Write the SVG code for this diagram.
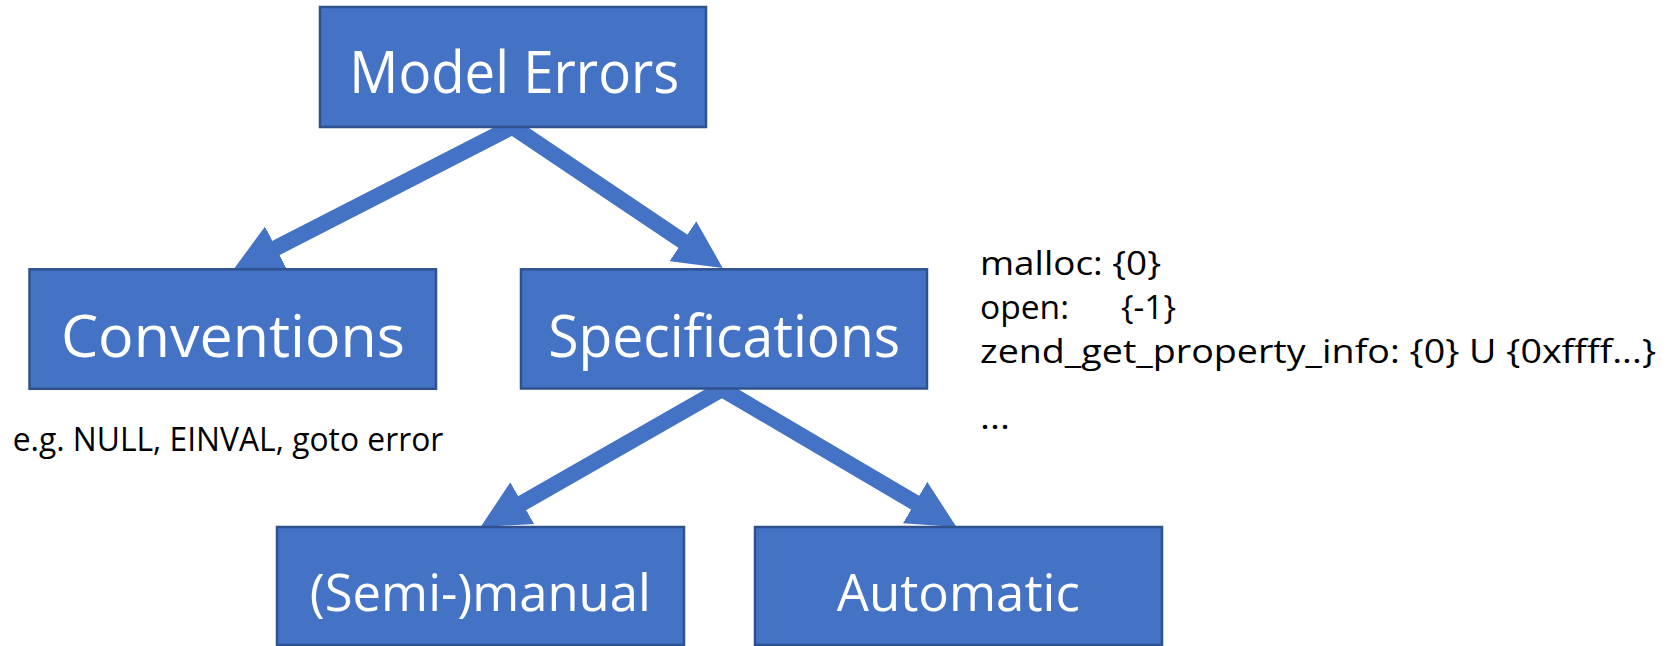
<svg xmlns="http://www.w3.org/2000/svg" width="1680" height="646" viewBox="0 0 1680 646">
  <style>
    .box { fill: #4472C4; stroke: #2F528F; stroke-width: 2.5; }
    .lbl { font-family: "Open Sans", "Noto Sans", "Liberation Sans", sans-serif; fill: #FFFFFF; text-anchor: middle; }
    .big { font-size: 58px; }
    .mid { font-size: 52px; }
    .note { font-family: "Open Sans", "Noto Sans", "Liberation Sans", sans-serif; fill: #000000; }
    .spec { font-size: 32px; }
    .conn { stroke: #4472C4; stroke-width: 16; fill: none; stroke-linecap: butt; marker-end: url(#head); }
  </style>
  <defs>
    <marker id="head" markerUnits="strokeWidth" markerWidth="3" markerHeight="3" refX="1.5" refY="1.5" orient="auto" viewBox="0 0 3 3">
      <path d="M0,0 L3,1.5 L0,3 z" fill="#4472C4"/>
    </marker>
  </defs>
  <rect width="1680" height="646" fill="#FFFFFF"/>

  <g id="connectors">
    <line class="conn" x1="512" y1="127" x2="254.6" y2="258.9"/>
    <line class="conn" x1="513" y1="127" x2="702.8" y2="254.6"/>
    <line class="conn" x1="722" y1="389" x2="501.4" y2="515.1"/>
    <line class="conn" x1="722" y1="389" x2="935.8" y2="514.8"/>
  </g>

  <g id="model-errors">
    <rect class="box" x="320" y="7" width="386" height="120"/>
    <text class="lbl big" x="514.3" y="92.7" textLength="330" lengthAdjust="spacingAndGlyphs">Model Errors</text>
  </g>

  <g id="conventions">
    <rect class="box" x="29.5" y="269.3" width="406.5" height="119.5"/>
    <text class="lbl big" x="232.9" y="356.7" textLength="344" lengthAdjust="spacingAndGlyphs">Conventions</text>
  </g>

  <g id="specifications">
    <rect class="box" x="521" y="269.3" width="406" height="119.2"/>
    <text class="lbl big" x="724.2" y="356.7" textLength="352" lengthAdjust="spacingAndGlyphs">Specifications</text>
  </g>

  <g id="semi-manual">
    <rect class="box" x="277" y="527" width="407" height="118"/>
    <text class="lbl mid" x="480.3" y="610.7" textLength="341" lengthAdjust="spacingAndGlyphs">(Semi-)manual</text>
  </g>

  <g id="automatic">
    <rect class="box" x="755" y="527" width="407" height="118"/>
    <text class="lbl mid" x="958.3" y="610.7" textLength="243" lengthAdjust="spacingAndGlyphs">Automatic</text>
  </g>

  <g id="conventions-note">
    <text class="note" x="12.7" y="451" font-size="32" textLength="430.6" lengthAdjust="spacingAndGlyphs">e.g. NULL, EINVAL, goto error</text>
  </g>

  <g id="specifications-note">
    <text class="note spec" x="980" y="274.5" textLength="181" lengthAdjust="spacingAndGlyphs">malloc: {0}</text>
    <text class="note spec" x="980" y="318.5" textLength="89" lengthAdjust="spacingAndGlyphs">open:</text>
    <text class="note spec" x="1121" y="318.5" textLength="55" lengthAdjust="spacingAndGlyphs">{-1}</text>
    <text class="note spec" x="980" y="362.5" textLength="676" lengthAdjust="spacingAndGlyphs">zend_get_property_info: {0} U {0xffff...}</text>
    <text class="note spec" x="980" y="429" textLength="30" lengthAdjust="spacingAndGlyphs">...</text>
  </g>
</svg>
